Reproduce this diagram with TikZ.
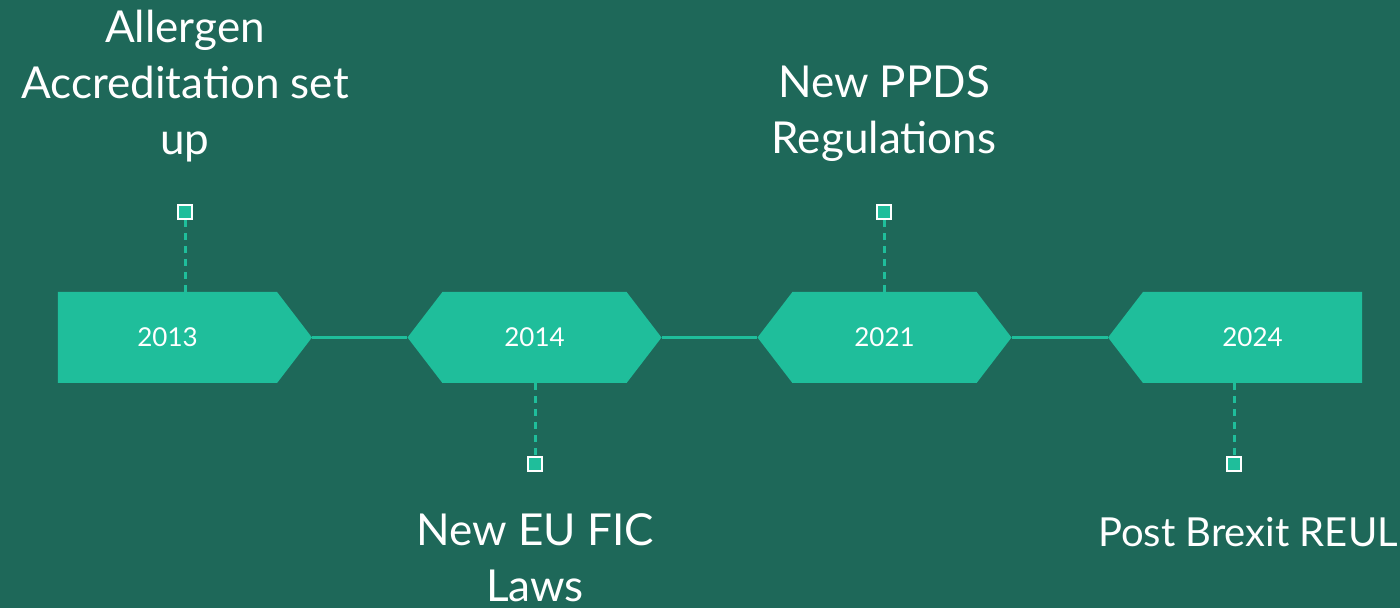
\documentclass[tikz,border=0pt]{standalone}
\usepackage{fontspec}
\setmainfont{Lato}
\usetikzlibrary{shapes.symbols}
\definecolor{slate}{RGB}{30,104,89}
\definecolor{mint}{RGB}{31,190,155}
\tikzset{
  year/.style={shape=signal, signal pointer angle=105, fill=mint, text=white,
    inner sep=0pt, minimum width=127pt, minimum height=45.5pt,
    font=\fontsize{13}{15}\selectfont},
  pin/.style={draw=white, fill=mint, line width=1.4pt, inner sep=0pt,
    minimum size=7pt},
  stem/.style={mint, line width=1.5pt, dash pattern=on 3.5pt off 3pt},
  event/.style={text=white, align=center,
    font=\fontsize{22}{28}\selectfont},
  link/.style={mint, line width=1.2pt}
}
\begin{document}
\begin{tikzpicture}[x=0.5pt, y=-0.5pt]
    \fill [slate] (0,0) rectangle (1400,608);
    \useasboundingbox (0,0) rectangle (1400,608);
    % the four years on the line
    \node [year, signal to=east] (13) at (167.5,337.5) {2013};
    \node [year, signal to=west and east] (14) at (534.5,337.5) {2014};
    \node [year, signal to=west and east] (21) at (884.5,337.5) {2021};
    \node [year, signal to=west] (24) at (1252.5,337.5) {2024};
    \draw [link] (13.east) -- (14.west);
    \draw [link] (14.east) -- (21.west);
    \draw [link] (21.east) -- (24.west);
    % markers above and below
    \node [pin] (p13) at (185,212) {};
    \node [pin] (p14) at (535,464) {};
    \node [pin] (p21) at (884,212) {};
    \node [pin] (p24) at (1234,464) {};
    \draw [stem] (p13) -- (p13 |- 13.north);
    \draw [stem] (p14 |- 14.south) -- (p14);
    \draw [stem] (p21) -- (p21 |- 21.north);
    \draw [stem] (p24 |- 24.south) -- (p24);
    % what happened
    \node [event] (e13) at (185,86) {Allergen\\Accreditation set\\up};
    \node [event] (e14) at (535,558) {New EU FIC\\Laws};
    \node [event] (e21) at (884,114) {New PPDS\\Regulations};
    \node [event, font=\fontsize{20}{28}\selectfont] (e24) at (1248,532) {Post Brexit REUL};
  \end{tikzpicture}
\end{document}
